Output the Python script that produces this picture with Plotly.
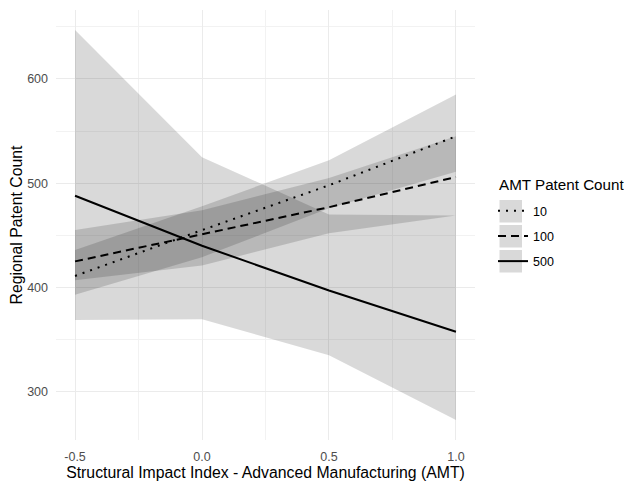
import plotly.graph_objects as go

# ---- data ----
x_vals = [-0.5, 0.0, 0.5, 1.0]
groups = ["10", "100", "500"]

fit_10 = [411, 455, 498, 545]
lo_10 = [393, 429, 476, 511]
hi_10 = [436, 478, 522, 585]

fit_100 = [425, 451, 477, 506]
lo_100 = [407, 421, 452, 469]
hi_100 = [455, 474, 505, 545]

fit_500 = [488, 440, 397, 357.5]
lo_500 = [368.7, 369.4, 335, 272.7]
hi_500 = [647, 525, 470, 469]

x_ticks = [-0.5, 0.0, 0.5, 1.0]
x_ticklabels = ["-0.5", "0.0", "0.5", "1.0"]
y_ticks = [300, 400, 500, 600]
y_ticklabels = ["300", "400", "500", "600"]
legend_title = "AMT Patent Count"

fits = [fit_10, fit_100, fit_500]
los = [lo_10, lo_100, lo_500]
his = [hi_10, hi_100, hi_500]
dashes = ["2px,6px", "8px,5px", "solid"]

FONT = "Liberation Sans, Arial, sans-serif"
RIBBON = "rgba(0,0,0,0.15)"

fig = go.Figure()

# ribbons
for g, lo, hi in zip(groups, los, his):
    fig.add_trace(go.Scatter(x=x_vals, y=lo, mode="lines", line=dict(width=0),
                             showlegend=False, hoverinfo="skip"))
    fig.add_trace(go.Scatter(x=x_vals, y=hi, mode="lines", line=dict(width=0),
                             fill="tonexty", fillcolor=RIBBON,
                             showlegend=False, hoverinfo="skip"))

# lines
for g, f, d in zip(groups, fits, dashes):
    fig.add_trace(go.Scatter(x=x_vals, y=f, mode="lines", name=g,
                             legendgroup=g,
                             line=dict(color="black", width=2, dash=d)))

# page geometry (page has an 8px body margin)
OFF = 8
W, H = 632 - OFF, 481 - OFF
plot_l, plot_r, plot_t, plot_b = 56, 475, 10, 440   # page px
pw, ph = plot_r - plot_l, plot_b - plot_t

def px2paper_x(px):
    return (px - plot_l) / pw

def px2paper_y(py):
    return (plot_b - py) / ph

shapes = []
for i in range(3):
    top = 200 + 25 * i
    shapes.append(dict(type="rect", xref="paper", yref="paper",
                       x0=px2paper_x(499.5), x1=px2paper_x(522),
                       y0=px2paper_y(top + 22.5), y1=px2paper_y(top),
                       fillcolor="#D9D9D9", line=dict(width=0), layer="below"))

fig.update_layout(
    width=W, height=H,
    margin=dict(l=plot_l - OFF, r=W - (plot_r - OFF), t=plot_t - OFF,
                b=H - (plot_b - OFF), autoexpand=False),
    paper_bgcolor="white", plot_bgcolor="white",
    font=dict(family=FONT, color="black"),
    shapes=shapes,
    annotations=[dict(text=legend_title, xref="paper", yref="paper",
                      x=px2paper_x(497), y=px2paper_y(185),
                      xanchor="left", yanchor="middle", showarrow=False,
                      font=dict(size=15.2, color="black"))],
    showlegend=True,
    legend=dict(
        font=dict(size=12.5, color="black"),
        x=px2paper_x(493), xanchor="left",
        y=px2paper_y(196), yanchor="top",
        tracegroupgap=6,
        bgcolor="rgba(0,0,0,0)",
        itemclick=False, itemdoubleclick=False,
    ),
    xaxis=dict(
        range=[-0.575, 1.075],
        tickvals=x_ticks, ticktext=x_ticklabels,
        tickfont=dict(size=12.5, color="#4D4D4D"),
        ticks="", showline=False, zeroline=False, ticklabelstandoff=7,
        showgrid=True, gridcolor="#EBEBEB", gridwidth=1.1,
        minor=dict(dtick=0.25, tick0=-0.25, showgrid=True, gridcolor="#F2F2F2", gridwidth=0.6),
        title=dict(text="Structural Impact Index - Advanced Manufacturing (AMT)",
                   font=dict(size=15.8, color="black"), standoff=5),
    ),
    yaxis=dict(
        range=[253.6, 666.2],
        tickvals=y_ticks, ticktext=y_ticklabels,
        tickfont=dict(size=12.5, color="#4D4D4D"),
        ticks="", showline=False, zeroline=False, ticklabelstandoff=7,
        showgrid=True, gridcolor="#EBEBEB", gridwidth=1.1,
        minor=dict(dtick=100, tick0=250, showgrid=True, gridcolor="#F2F2F2", gridwidth=0.6),
        title=dict(text="Regional Patent Count",
                   font=dict(size=15.8, color="black"), standoff=2),
    ),
)

fig.write_html("out.html")
